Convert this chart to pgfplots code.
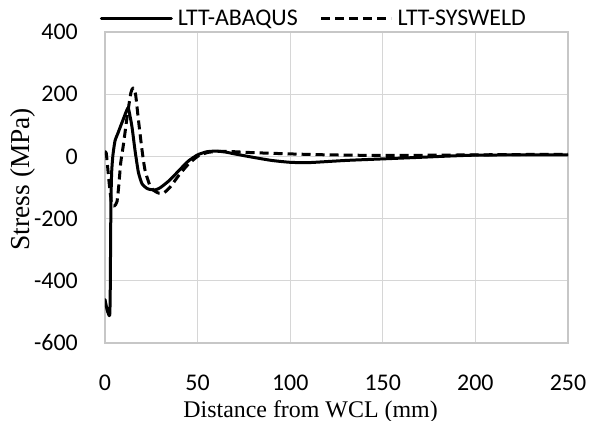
\documentclass[border=0pt]{standalone}
\usepackage{pgfplots}
\pgfplotsset{compat=1.18}
\usepackage{fontspec}
\setmainfont{Liberation Serif}
\newfontfamily\calib{Carlito}
\usetikzlibrary{calc}
\begin{document}
\begin{tikzpicture}
\begin{axis}[
 scale only axis, width=463bp, height=311bp,
 xmin=0, xmax=250, ymin=-600, ymax=400,
 xtick={0,50,...,250}, ytick={-600,-400,...,400},
 grid=major, major grid style={color=black!16, line width=1.2bp},
 axis line style={color=black!22, line width=1.2bp},
 tick style={draw=none},
 /pgf/number format/assume math mode=true,
 ticklabel style={font=\calib\fontsize{24}{28}\selectfont, inner sep=0pt},
 xticklabel style={yshift=-32bp},
 yticklabel style={xshift=-27bp},
 xlabel={Distance from WCL (mm)},
 xlabel style={font=\fontsize{24}{28}\selectfont, at={(axis description cs:0.444,-0.238)}, anchor=base},
 ylabel={Stress (MPa)},
 ylabel style={font=\fontsize{27.5}{30}\selectfont, at={(axis description cs:-0.177,0.527)}, anchor=center},
 legend columns=2,
 legend style={draw=none, fill=none, font=\calib\fontsize{24}{28}\selectfont,
   at={(axis description cs:0.451,1.045)}, anchor=center,
   /tikz/every odd column/.append style={column sep=3bp},
   /tikz/every even column/.append style={column sep=20bp}},
 legend image code/.code={\draw[#1] (0bp,0bp) -- (70bp,0bp);},
 every axis plot/.append style={line width=3bp, line join=round, line cap=round},
]
\coordinate (BL) at (rel axis cs:0,0);
\addplot[black, smooth, tension=0.35] coordinates {
(0,-460) (1.2,-495) (2.5,-512) (2.8,-450) (3,-300) (3.2,-150) (3.6,-50) (4.3,5) (5.4,50) (7,75) (9.7,117) (12.4,156) (13.5,130) (14.6,94) (16.2,20) (18,-50) (20,-88) (23,-104) (27,-108) (30,-100) (35,-76) (40,-45) (45,-15) (50,5) (55,15) (60,17) (65,14) (70,8) (80,-3) (90,-13) (100,-19) (110,-20) (130,-13) (150,-8) (170,-3) (200,4) (250,5)
};
\addlegendentry{LTT-ABAQUS}
\addplot[black, smooth, tension=0.35, dash pattern=on 9bp off 5bp, line cap=butt] coordinates {
(0,15) (0.7,10) (1.6,-45) (2.5,-100) (3.5,-148) (5,-160) (6.5,-145) (7.5,-90) (8.5,-20) (10,40) (12,130) (14,205) (15.2,220) (16.5,200) (18,120) (20,20) (21.6,-44) (24,-90) (26,-108) (29,-118) (32,-116) (35,-100) (40,-60) (45,-25) (50,0) (55,12) (60,16) (65,16) (70,15) (80,12) (90,10) (100,8) (120,5) (150,3) (180,4) (200,5) (250,7)
};
\addlegendentry{LTT-SYSWELD}
\end{axis}
\pgfresetboundingbox
\path ($(BL)+(-105bp,-78bp)$) rectangle ($(BL)+(489bp,343bp)$);
\end{tikzpicture}
\end{document}
